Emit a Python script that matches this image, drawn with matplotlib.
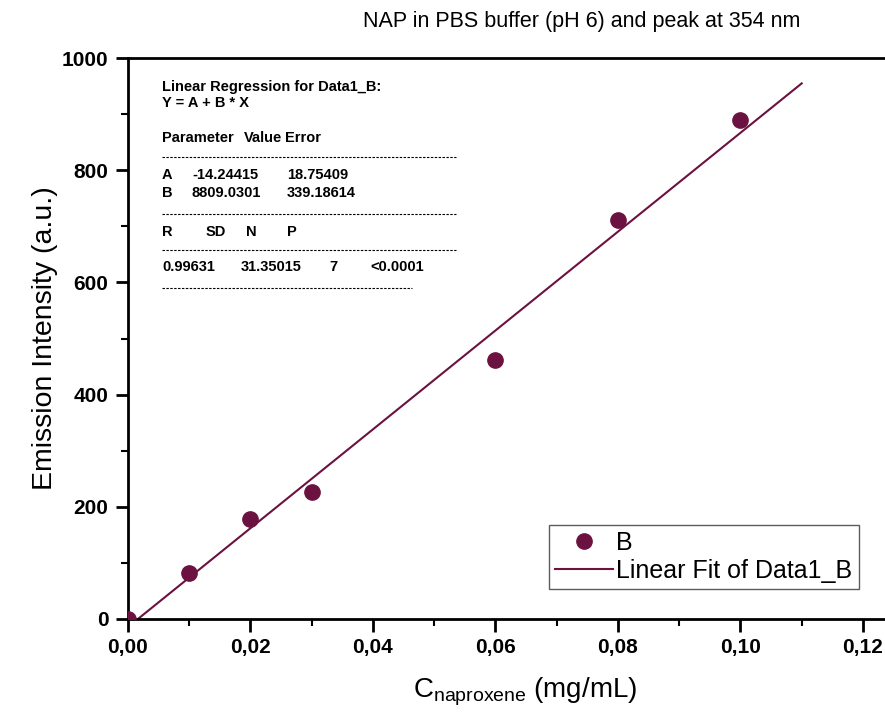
import numpy as np
import matplotlib
matplotlib.use('Agg')
from matplotlib import pyplot as plt
from matplotlib.ticker import MultipleLocator, FuncFormatter

plt.rcParams['font.family'] = ['Liberation Sans', 'DejaVu Sans']

# data
conc = [0.0, 0.01, 0.02, 0.03, 0.06, 0.08, 0.10]
intensity = [0, 82, 178, 226, 462, 711, 889]

# fit parameters as reported in the figure
fit_a = -14.24415
fit_b = 8809.0301
fit_x = [0.0, 0.11]

dark = '#6b1240'

fig = plt.figure(figsize=(8.85, 7.13), dpi=100)
ax = fig.add_axes([128 / 885, 94 / 713, 757 / 885, 561 / 713])

ax.plot(conc, intensity, 'o', color=dark, markersize=11, label='B', zorder=3)
fx = np.array(fit_x)
ax.plot(fx, fit_a + fit_b * fx, '-', color=dark, lw=1.5, label='Linear Fit of Data1_B')

ax.set_xlim(0, 0.1236)
ax.set_ylim(0, 1000)
ax.xaxis.set_major_locator(MultipleLocator(0.02))
ax.xaxis.set_minor_locator(MultipleLocator(0.01))
ax.yaxis.set_major_locator(MultipleLocator(200))
ax.yaxis.set_minor_locator(MultipleLocator(100))
ax.xaxis.set_major_formatter(FuncFormatter(lambda v, p: f'{v:.2f}'.replace('.', ',')))
ax.yaxis.set_major_formatter(FuncFormatter(lambda v, p: f'{v:.0f}'))

for s in ['left', 'bottom', 'top']:
	ax.spines[s].set_linewidth(2)
ax.spines['right'].set_visible(False)
ax.tick_params(which='major', direction='out', length=9, width=2, labelsize=15, pad=5)
ax.tick_params(which='minor', direction='out', length=5, width=1.5)
for lab in ax.get_xticklabels() + ax.get_yticklabels():
	lab.set_fontweight('bold')

# title sits right of the axes centre in the original
ax.set_title('NAP in PBS buffer (pH 6) and peak at 354 nm', fontsize=15.5, pad=22,
	x=(582 - 128) / 757)
ax.set_ylabel('Emission Intensity (a.u.)', fontsize=20.5, labelpad=3)
ax.set_xlabel('C$_{\\mathregular{naproxene}}$ (mg/mL)', fontsize=20, labelpad=13)
ax.xaxis.label.set_x((525 - 128) / 757)

leg = ax.legend(loc='upper left', bbox_to_anchor=(0.556, 0.168), fontsize=18,
		frameon=True, fancybox=False, edgecolor='#333333', borderpad=0.25,
		handlelength=2.3, handletextpad=0.15, labelspacing=0.15, borderaxespad=0)
leg.get_frame().set_linewidth(1)


def ax_pos(px, py):
	return (px - 128) / 757, (619 - py) / 561


# regression report block
rows = [
	(87, [(162, 'Linear Regression for Data1_B:')]),
	(103, [(162, 'Y = A + B * X')]),
	(138, [(162, 'Parameter'), (244, 'Value'), (285, 'Error')]),
	(175, [(162, 'A'), (192, '-14.24415'), (287, '18.75409')]),
	(193, [(162, 'B'), (192, '8809.0301'), (287, '339.18614')]),
	(232, [(162, 'R'), (206, 'SD'), (246, 'N'), (287, 'P')]),
	(267, [(162, '0.99631'), (241, '31.35015'), (329, '7'), (370, '<0.0001')]),
]
for py, cells in rows:
	for px, txt in cells:
		x, y = ax_pos(px, py)
		ax.text(x, y, txt, transform=ax.transAxes, fontsize=10.5, fontweight='bold',
			va='center', ha='left')

for py, x1 in [(157, 456), (214, 456), (250, 456), (288, 412)]:
	xa, ya = ax_pos(162, py)
	xb, _ = ax_pos(x1, py)
	ax.plot([xa, xb], [ya, ya], transform=ax.transAxes, color='black', lw=0.8,
		linestyle=(0, (2.2, 1.3)), clip_on=False)

plt.savefig('out.png', dpi=100)
